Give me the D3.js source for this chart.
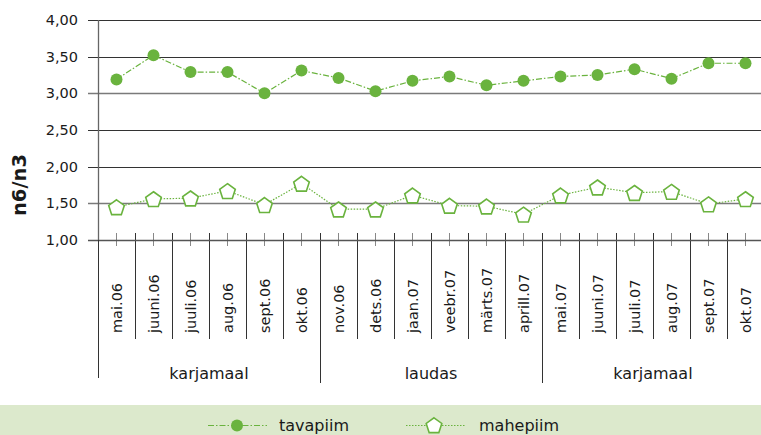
<!DOCTYPE html>
<html lang="et">
<head>
    <meta charset="UTF-8">
    <title>n6/n3</title>
    <script src="https://cdn.jsdelivr.net/npm/d3@7/dist/d3.min.js"></script>
    <style>
        body {
            margin: 0;
            padding: 0;
            background: #fff;
        }
        text {
            font-family: "DejaVu Sans", sans-serif;
            fill: #1a1a1a;
        }
    </style>
</head>
<body>
<svg width="761" height="435" id="mainsvg"></svg>
<script>
    const months = ["mai.06", "juuni.06", "juuli.06", "aug.06", "sept.06", "okt.06",
        "nov.06", "dets.06", "jaan.07", "veebr.07", "märts.07", "aprill.07",
        "mai.07", "juuni.07", "juuli.07", "aug.07", "sept.07", "okt.07"];
    const groups = ["karjamaal", "laudas", "karjamaal"];
    const groupSize = [6, 6, 6];
    const tavapiim = [3.19, 3.52, 3.29, 3.29, 3.00, 3.31, 3.21, 3.03, 3.17,
        3.23, 3.11, 3.17, 3.23, 3.25, 3.33, 3.20, 3.41, 3.41];
    const mahepiim = [1.45, 1.56, 1.57, 1.67, 1.48, 1.77, 1.42, 1.42, 1.61,
        1.47, 1.46, 1.35, 1.61, 1.72, 1.645, 1.66, 1.49, 1.56];
    const yTicks = [1, 1.5, 2, 2.5, 3, 3.5, 4];

    const green = "#6ab33e";
    const svg = d3.select("#mainsvg");
    const fmt = d => d.toFixed(2).replace(".", ",");

    // band scale runs a bit past the right edge like in the original
    const x = d3.scaleBand().domain(months).range([98, 98 + 37 * 18]);
    const y = d3.scaleLinear().domain([1, 4]).range([240, 20]);

    // grid
    svg.append("g").selectAll("line").data(yTicks).join("line")
        .attr("x1", 88).attr("x2", 761)
        .attr("y1", d => Math.round(y(d)) + 0.5).attr("y2", d => Math.round(y(d)) + 0.5)
        .attr("stroke", d => (d === 3 || d === 1.5) ? "#7a7a7a" : "#333")
        .attr("stroke-width", d => (d === 3 || d === 1.5) ? 1.6 : 1);

    svg.append("g").selectAll("text").data(yTicks).join("text")
        .attr("x", 78).attr("y", d => y(d) + 5)
        .attr("text-anchor", "end")
        .attr("font-size", 14.5)
        .text(fmt);

    // y axis line
    svg.append("line").attr("x1", 98.5).attr("x2", 98.5).attr("y1", 20).attr("y2", 240)
        .attr("stroke", "#666").attr("stroke-width", 1.3);

    svg.append("text")
        .attr("transform", "translate(26,185) rotate(-90)")
        .attr("text-anchor", "middle")
        .attr("font-size", 19.5).attr("font-weight", "bold")
        .text("n6/n3");

    // x axis: small centre ticks + long boundary lines
    const axisG = svg.append("g");
    axisG.selectAll("line.c").data(months).join("line")
        .attr("class", "c")
        .attr("x1", d => x(d) + x.bandwidth() / 2).attr("x2", d => x(d) + x.bandwidth() / 2)
        .attr("y1", 233).attr("y2", 246)
        .attr("stroke", "#888");
    axisG.selectAll("line.b").data(months.slice(1)).join("line")
        .attr("class", "b")
        .attr("x1", d => Math.round(x(d)) + 0.5).attr("x2", d => Math.round(x(d)) + 0.5)
        .attr("y1", 233).attr("y2", 339)
        .attr("stroke", "#333");
    axisG.selectAll("text").data(months).join("text")
        .attr("transform", d => `translate(${x(d) + x.bandwidth() / 2 + 5},333) rotate(-90)`)
        .attr("font-size", 14.5)
        .text(d => d);

    // groups
    let start = 0;
    const gInfo = groups.map((g, i) => {
        const s = start;
        start += groupSize[i];
        return {name: g, from: s, to: start};
    });
    svg.append("g").selectAll("line").data(gInfo).join("line")
        .attr("x1", d => Math.round(x(months[d.from])) + 0.5)
        .attr("x2", d => Math.round(x(months[d.from])) + 0.5)
        .attr("y1", d => d.from === 0 ? 240 : 339).attr("y2", d => d.from === 0 ? 378 : 383)
        .attr("stroke", "#333");
    svg.append("g").selectAll("text").data(gInfo).join("text")
        .attr("x", d => (x(months[d.from]) + x(months[d.to - 1]) + x.bandwidth()) / 2)
        .attr("y", 379)
        .attr("text-anchor", "middle")
        .attr("font-size", 16)
        .text(d => d.name);

    axisG.append("line").attr("x1", 88).attr("x2", 761).attr("y1", 240.5).attr("y2", 240.5)
        .attr("stroke", "#555").attr("stroke-width", 1.3);

    // series
    const line = d3.line().x((d, i) => x(months[i]) + x.bandwidth() / 2).y(d => y(d));
    function pentagon(r) {
        const pts = d3.range(5).map(k => {
            const a = -Math.PI / 2 + k * 2 * Math.PI / 5;
            return [r * Math.cos(a), r * Math.sin(a)];
        });
        return "M" + pts.map(p => p.join(",")).join("L") + "Z";
    }

    svg.append("path").datum(tavapiim).attr("d", line)
        .attr("fill", "none").attr("stroke", green).attr("stroke-width", 1.2)
        .attr("stroke-dasharray", "6,2,1.5,2");
    svg.append("g").selectAll("circle").data(tavapiim).join("circle")
        .attr("cx", (d, i) => x(months[i]) + x.bandwidth() / 2)
        .attr("cy", d => y(d)).attr("r", 6).attr("fill", green);

    svg.append("path").datum(mahepiim).attr("d", line)
        .attr("fill", "none").attr("stroke", green).attr("stroke-width", 1.2)
        .attr("stroke-dasharray", "1.5,1.5");
    svg.append("g").selectAll("path").data(mahepiim).join("path")
        .attr("transform", (d, i) => `translate(${x(months[i]) + x.bandwidth() / 2},${y(d) + 1})`)
        .attr("d", pentagon(8.2))
        .attr("fill", "#fff").attr("stroke", green).attr("stroke-width", 1.6);

    // legend
    svg.append("rect").attr("x", 0).attr("y", 405).attr("width", 761).attr("height", 30)
        .attr("fill", "#dce9cc");
    const lg = svg.append("g");
    lg.append("line").attr("x1", 208).attr("x2", 267).attr("y1", 425.5).attr("y2", 425.5)
        .attr("stroke", green).attr("stroke-width", 1.2).attr("stroke-dasharray", "6,2,1.5,2");
    lg.append("circle").attr("cx", 237).attr("cy", 425.5).attr("r", 6).attr("fill", green);
    lg.append("text").attr("x", 279).attr("y", 430.5).attr("font-size", 16).text("tavapiim");
    lg.append("line").attr("x1", 406).attr("x2", 465).attr("y1", 425.5).attr("y2", 425.5)
        .attr("stroke", green).attr("stroke-width", 1.2).attr("stroke-dasharray", "1.5,1.5");
    lg.append("path").attr("transform", "translate(434,426)").attr("d", pentagon(8.2))
        .attr("fill", "#fff").attr("stroke", green).attr("stroke-width", 1.6);
    lg.append("text").attr("x", 479).attr("y", 430.5).attr("font-size", 16).text("mahepiim");
</script>
</body>
</html>
